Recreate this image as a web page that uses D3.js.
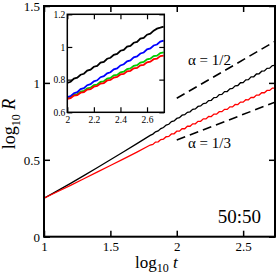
<!DOCTYPE html>
<html><head><meta charset="utf-8">
<script src="https://cdn.jsdelivr.net/npm/d3@7/dist/d3.min.js"></script>
<style>
html,body{margin:0;padding:0;background:#fff;}
svg{display:block;}
text{font-family:"Liberation Serif","Times New Roman",serif;fill:#000;}
</style></head><body>
<svg id="c" width="277" height="275"></svg>
<script>
// ---- data ----
const mainX = [1.0,1.1,1.2,1.3,1.4,1.5,1.6,1.7,
  1.80,1.82,1.84,1.86,1.88,1.90,1.92,1.94,1.96,1.98,
  2.00,2.02,2.04,2.06,2.08,2.10,2.12,2.14,2.16,2.18,
  2.20,2.22,2.24,2.26,2.28,2.30,2.32,2.34,2.36,2.38,
  2.40,2.42,2.44,2.46,2.48,2.50,2.52,2.54,2.56,2.58,
  2.60,2.62,2.64,2.66,2.68,2.70,2.72,2.74];
const mainBlack = [0.250,0.298,0.347,0.397,0.448,0.500,0.552,0.605,
  0.659,0.667,0.682,0.688,0.703,0.710,0.726,0.731,0.748,0.753,
  0.769,0.774,0.790,0.793,0.809,0.812,0.828,0.831,0.847,0.850,
  0.866,0.868,0.885,0.887,0.905,0.906,0.924,0.925,0.943,0.944,
  0.962,0.964,0.981,0.983,1.001,1.002,1.020,1.021,1.039,1.040,
  1.058,1.059,1.076,1.078,1.095,1.096,1.113,1.114];
const mainRed = [0.250,0.292,0.334,0.377,0.420,0.463,0.506,0.550,
  0.596,0.600,0.615,0.617,0.632,0.635,0.650,0.652,0.668,0.669,
  0.686,0.686,0.702,0.702,0.718,0.718,0.734,0.734,0.750,0.750,
  0.766,0.766,0.782,0.781,0.797,0.797,0.813,0.813,0.828,0.828,
  0.844,0.844,0.860,0.859,0.875,0.875,0.891,0.890,0.906,0.905,
  0.921,0.921,0.936,0.936,0.951,0.951,0.966,0.966];

const insetX = [2.000,2.025,2.050,2.075,2.100,2.125,2.150,2.175,2.200,2.225,
  2.250,2.275,2.300,2.325,2.350,2.375,2.400,2.425,2.450,2.475,
  2.500,2.525,2.550,2.575,2.600,2.625,2.650,2.675,2.700,2.725];
const insetBlack = [0.780,0.787,0.806,0.812,0.830,0.836,0.855,0.861,0.879,0.884,
  0.904,0.909,0.928,0.934,0.952,0.958,0.977,0.982,1.002,1.007,
  1.026,1.031,1.051,1.056,1.075,1.081,1.100,1.112,1.118,1.125];
const insetBlue = [0.693,0.699,0.717,0.723,0.742,0.748,0.766,0.772,0.790,0.796,
  0.815,0.821,0.839,0.845,0.863,0.869,0.887,0.894,0.912,0.918,
  0.936,0.942,0.960,0.966,0.985,0.991,1.009,1.015,1.033,1.039];
const insetGreen = [0.688,0.692,0.708,0.711,0.727,0.731,0.747,0.751,0.767,0.770,
  0.786,0.790,0.806,0.810,0.826,0.829,0.845,0.849,0.865,0.869,
  0.885,0.888,0.904,0.908,0.924,0.928,0.944,0.947,0.963,0.967];
const insetRed = [0.683,0.686,0.702,0.705,0.720,0.724,0.739,0.742,0.757,0.761,
  0.776,0.779,0.795,0.798,0.813,0.817,0.832,0.835,0.851,0.854,
  0.869,0.872,0.888,0.891,0.906,0.910,0.925,0.928,0.944,0.947];

// guide lines (slope alpha) endpoints in data coords
const guideHalfX = [2.0, 2.74];
const guideHalfY = [0.90, 1.27];
const guideThirdX = [2.0, 2.74];
const guideThirdY = [0.628, 0.875];

const mainXTicks = [1, 1.5, 2, 2.5];
const mainXTickLabels = ["1", "1.5", "2", "2.5"];
const mainYTicks = [0, 0.5, 1, 1.5];
const mainYTickLabels = ["0", "0.5", "1", "1.5"];
const insetXTicks = [2, 2.2, 2.4, 2.6];
const insetXTickLabels = ["2", "2.2", "2.4", "2.6"];
const insetYTicks = [0.6, 0.8, 1, 1.2];
const insetYTickLabels = ["0.6", "0.8", "1", "1.2"];

// ---- drawing ----
const svg = d3.select("#c");
const L = 44, T = 6, R = 275, B = 236.7;
const x = d3.scaleLinear().domain([1, 2.74]).range([L, R]);
const y = d3.scaleLinear().domain([0, 1.5]).range([B, T]);

svg.append("defs").append("clipPath").attr("id","clipMain")
  .append("rect").attr("x",L).attr("y",T).attr("width",R-L).attr("height",B-T);

function fmt(vals, labels){ return d => labels[vals.indexOf(d)]; }

// main axes
const gx = svg.append("g").attr("transform",`translate(0,${B})`)
  .call(d3.axisBottom(x).tickValues(mainXTicks).tickFormat(fmt(mainXTicks,mainXTickLabels)).tickSizeInner(-6).tickSizeOuter(0).tickPadding(3));
const gxt = svg.append("g").attr("transform",`translate(0,${T})`)
  .call(d3.axisTop(x).tickValues(mainXTicks).tickFormat("").tickSizeInner(-6).tickSizeOuter(0));
const gy = svg.append("g").attr("transform",`translate(${L},0)`)
  .call(d3.axisLeft(y).tickValues(mainYTicks).tickFormat(fmt(mainYTicks,mainYTickLabels)).tickSizeInner(-6).tickSizeOuter(0).tickPadding(4));
const gyr = svg.append("g").attr("transform",`translate(${R},0)`)
  .call(d3.axisRight(y).tickValues(mainYTicks).tickFormat("").tickSizeInner(-6).tickSizeOuter(0));
[gx,gxt,gy,gyr].forEach(g=>{
  g.select(".domain").remove();
  g.selectAll(".tick line").attr("stroke","#000").attr("stroke-width",1.5);
  g.selectAll(".tick text").style("font-size","13px").style("font-family","'Liberation Serif',serif").attr("fill","#000");
});
gx.selectAll(".tick text").attr("dy","0.85em");
gy.selectAll(".tick text").attr("dy","0.35em");

// main curves
const line = d3.line().x(d=>x(d[0])).y(d=>y(d[1]));
const gm = svg.append("g").attr("clip-path","url(#clipMain)");
gm.append("path").datum(mainX.map((v,i)=>[v,mainBlack[i]]))
  .attr("d",line).attr("fill","none").attr("stroke","#000").attr("stroke-width",1.3);
gm.append("path").datum(mainX.map((v,i)=>[v,mainRed[i]]))
  .attr("d",line).attr("fill","none").attr("stroke","#ff0000").attr("stroke-width",1.3);
gm.append("path").datum(guideHalfX.map((v,i)=>[v,guideHalfY[i]]))
  .attr("d",line).attr("fill","none").attr("stroke","#000").attr("stroke-width",1.6).attr("stroke-dasharray","9,5");
gm.append("path").datum(guideThirdX.map((v,i)=>[v,guideThirdY[i]]))
  .attr("d",line).attr("fill","none").attr("stroke","#000").attr("stroke-width",1.6).attr("stroke-dasharray","9,5");

// main frame
svg.append("rect").attr("x",L).attr("y",T).attr("width",R-L).attr("height",B-T)
  .attr("fill","none").attr("stroke","#000").attr("stroke-width",2);

// annotations
svg.append("text").attr("x",188).attr("y",65).style("font-size","15px").text("α = 1/2");
svg.append("text").attr("x",188).attr("y",148).style("font-size","15px").text("α = 1/3");
svg.append("text").attr("x",261).attr("y",223).attr("text-anchor","end").style("font-size","19px").text("50:50");

// axis labels
const xl = svg.append("text").attr("x",135).attr("y",268).attr("text-anchor","start").style("font-size","17px");
xl.append("tspan").text("log");
xl.append("tspan").attr("dy",4).style("font-size","12px").text("10");
xl.append("tspan").attr("dy",-4).text(" ");
xl.append("tspan").style("font-style","italic").text("t");
const yl = svg.append("text").attr("transform","translate(15,124) rotate(-90)").attr("text-anchor","middle").style("font-size","18px");
yl.append("tspan").text("log");
yl.append("tspan").attr("dy",5).style("font-size","12px").text("10");
yl.append("tspan").attr("dy",-5).text(" ");
yl.append("tspan").style("font-style","italic").text("R");

// ---- inset ----
const iL = 67.3, iT = 14.3, iR = 164.3, iB = 112.3;
const xi = d3.scaleLinear().domain([2, 2.73]).range([iL, iR]);
const yi = d3.scaleLinear().domain([0.6, 1.2]).range([iB, iT]);
svg.append("rect").attr("x",iL).attr("y",iT).attr("width",iR-iL).attr("height",iB-iT).attr("fill","#fff");
svg.append("defs").append("clipPath").attr("id","clipInset")
  .append("rect").attr("x",iL).attr("y",iT).attr("width",iR-iL).attr("height",iB-iT);
const lineI = d3.line().x(d=>xi(d[0])).y(d=>yi(d[1]));
const gi = svg.append("g").attr("clip-path","url(#clipInset)");
[[insetGreen,"#00cc00"],[insetBlue,"#0000ff"],[insetRed,"#ff0000"],[insetBlack,"#000"]].forEach(([arr,c])=>{
  gi.append("path").datum(insetX.map((v,i)=>[v,arr[i]]))
    .attr("d",lineI).attr("fill","none").attr("stroke",c).attr("stroke-width",1.8);
});
const ix = svg.append("g").attr("transform",`translate(0,${iB})`)
  .call(d3.axisBottom(xi).tickValues(insetXTicks).tickFormat(fmt(insetXTicks,insetXTickLabels)).tickSizeInner(-5).tickSizeOuter(0).tickPadding(3));
const ixt = svg.append("g").attr("transform",`translate(0,${iT})`)
  .call(d3.axisTop(xi).tickValues(insetXTicks).tickFormat("").tickSizeInner(-5).tickSizeOuter(0));
const iy = svg.append("g").attr("transform",`translate(${iL},0)`)
  .call(d3.axisLeft(yi).tickValues(insetYTicks).tickFormat(fmt(insetYTicks,insetYTickLabels)).tickSizeInner(-5).tickSizeOuter(0).tickPadding(2));
const iyr = svg.append("g").attr("transform",`translate(${iR},0)`)
  .call(d3.axisRight(yi).tickValues(insetYTicks).tickFormat("").tickSizeInner(-5).tickSizeOuter(0));
[ix,ixt,iy,iyr].forEach(g=>{
  g.select(".domain").remove();
  g.selectAll(".tick line").attr("stroke","#000").attr("stroke-width",1.2);
  g.selectAll(".tick text").style("font-size","9.5px").style("font-family","'Liberation Serif',serif").attr("fill","#000");
});
ix.selectAll(".tick text").attr("dy","0.8em");
iy.selectAll(".tick text").attr("dy","0.35em");
svg.append("rect").attr("x",iL).attr("y",iT).attr("width",iR-iL).attr("height",iB-iT)
  .attr("fill","none").attr("stroke","#000").attr("stroke-width",1.5);
</script>
</body></html>
